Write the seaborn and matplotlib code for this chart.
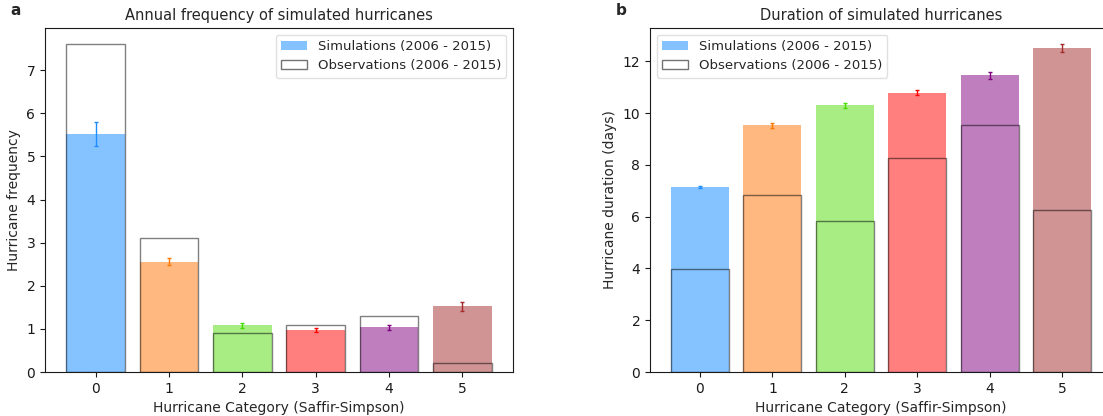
import matplotlib
matplotlib.use('Agg')
import matplotlib.pyplot as plt
from matplotlib.patches import Patch
import numpy as np
import pandas as pd
import seaborn as sns

# hurricane categories (Saffir-Simpson)
categories = ['0', '1', '2', '3', '4', '5']

# panel a: annual frequency
freq_sim = [5.52, 2.56, 1.08, 0.97, 1.04, 1.52]
freq_err = [0.27, 0.08, 0.05, 0.04, 0.06, 0.10]
freq_obs = [7.6, 3.1, 0.9, 1.1, 1.3, 0.2]

# panel b: duration (days)
dur_sim = [7.14, 9.52, 10.30, 10.78, 11.45, 12.50]
dur_err = [0.03, 0.08, 0.10, 0.10, 0.12, 0.15]
dur_obs = [3.97, 6.82, 5.82, 8.25, 9.55, 6.25]

colors = ['#0a88ff', '#ff7300', '#52dc0a', 'red', 'purple', 'brown']
err_colors = ['#1e8cff', '#ff7800', '#44dd00', 'red', 'purple', 'brown']

sim_label = 'Simulations (2006 - 2015)'
obs_label = 'Observations (2006 - 2015)'

sns.set_style('ticks')
plt.rcParams['font.family'] = ['DejaVu Sans']
plt.rcParams['xtick.direction'] = 'out'
plt.rcParams['ytick.direction'] = 'out'


def panel(ax, sim, err, obs, title, ylabel, letter, legend_loc):
    df = pd.DataFrame({'category': categories, 'sim': sim, 'obs': obs})
    sns.barplot(data=df, x='category', y='sim', hue='category', palette=colors,
                saturation=1, alpha=0.5, width=0.8, legend=False, ax=ax,
                edgecolor='none')
    sns.barplot(data=df, x='category', y='obs', fill=False, color='k',
                alpha=0.5, linewidth=1.0, width=0.8, ax=ax)
    for i, c in enumerate(categories):
        ax.errorbar(i, sim[i], yerr=err[i], fmt='none', ecolor=err_colors[i],
                    elinewidth=1.0, capsize=1.5, capthick=1.0)
    ax.set_xlim(-0.69, 5.69)
    ax.set_title(title, fontsize=10.5)
    ax.set_xlabel('Hurricane Category (Saffir-Simpson)', fontsize=10)
    ax.set_ylabel(ylabel, fontsize=10)
    ax.tick_params(labelsize=10, colors='0.1')
    for s in ax.spines.values():
        s.set_color('0.1')
    handles = [Patch(facecolor=colors[0], alpha=0.5, edgecolor='none'),
               Patch(facecolor='white', edgecolor='0.45', linewidth=1.0)]
    ax.legend(handles, [sim_label, obs_label], loc=legend_loc, fontsize=9.5,
              frameon=True, edgecolor='0.85', fancybox=True)
    ax.text(-0.075, 1.03, letter, transform=ax.transAxes, fontsize=11,
            fontweight='bold', ha='left', va='bottom')


fig = plt.figure(figsize=(11.03, 4.16), dpi=100)
ax1 = fig.add_axes([45 / 1103, 44 / 416, 468 / 1103, 344 / 416])
ax2 = fig.add_axes([650 / 1103, 44 / 416, 462 / 1103, 344 / 416])

panel(ax1, freq_sim, freq_err, freq_obs, 'Annual frequency of simulated hurricanes',
      'Hurricane frequency', 'a', 'upper right')
panel(ax2, dur_sim, dur_err, dur_obs, 'Duration of simulated hurricanes',
      'Hurricane duration (days)', 'b', 'upper left')

fig.savefig('out.png', dpi=100)
